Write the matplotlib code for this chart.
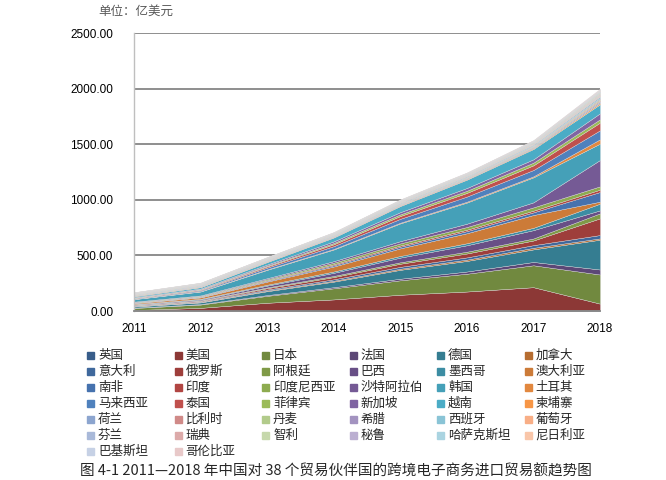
import matplotlib
matplotlib.use('Agg')
import matplotlib.pyplot as plt
from matplotlib.patches import Rectangle

plt.rcParams['font.family'] = ['Noto Sans CJK SC', 'DejaVu Sans']

# 年份与各国进口额（亿美元），按图例顺序自下而上堆叠
years = [2011, 2012, 2013, 2014, 2015, 2016, 2017, 2018]

countries = ['英国', '美国', '日本', '法国', '德国', '加拿大',
             '意大利', '俄罗斯', '阿根廷', '巴西', '墨西哥', '澳大利亚',
             '南非', '印度', '印度尼西亚', '沙特阿拉伯', '韩国', '土耳其',
             '马来西亚', '泰国', '菲律宾', '新加坡', '越南', '柬埔寨',
             '荷兰', '比利时', '丹麦', '希腊', '西班牙', '葡萄牙',
             '芬兰', '瑞典', '智利', '秘鲁', '哈萨克斯坦', '尼日利亚',
             '巴基斯坦', '哥伦比亚']

uk = [3, 3, 4, 4, 5, 5, 5, 6]
usa = [6, 25, 70, 100, 141, 170, 209, 60]
japan = [18, 30, 62, 100, 130, 160, 197, 262]
france = [3, 4, 7, 10, 14, 20, 30, 45]
germany = [10, 15, 35, 50, 80, 95, 113, 268]
canada = [3, 4, 6, 8, 10, 12, 14, 12]
italy = [4, 5, 9, 13, 17, 20, 24, 30]
russia = [4, 6, 12, 20, 28, 35, 42, 150]
argentina = [3, 4, 7, 10, 13, 16, 18, 45]
brazil = [5, 8, 16, 28, 42, 58, 75, 27]
mexico = [3, 5, 8, 12, 15, 18, 21, 60]
australia = [8, 13, 28, 45, 68, 90, 115, 18]
south_africa = [3, 4, 7, 11, 15, 19, 24, 87]
india = [3, 4, 6, 9, 11, 13, 15, 21]
indonesia = [4, 5, 9, 14, 19, 24, 30, 30]
saudi = [4, 5, 9, 14, 20, 30, 45, 237]
korea = [22, 35, 75, 105, 160, 190, 225, 147]
turkey = [2, 3, 4, 5, 6, 8, 9, 39]
malaysia = [5, 8, 16, 25, 35, 46, 57, 81]
thailand = [4, 6, 11, 17, 25, 33, 42, 69]
philippines = [3, 4, 7, 11, 15, 19, 24, 30]
singapore = [4, 6, 10, 15, 20, 25, 30, 54]
vietnam = [8, 12, 22, 35, 55, 75, 93, 81]
cambodia = [3.5, 3.8, 4.2, 4.6, 5.5, 6.0, 7.4, 13]
netherlands = [3.4, 3.9, 4.1, 4.5, 5.6, 6.1, 7.5, 12.8]
belgium = [2.9, 3.2, 3.5, 3.8, 4.6, 5.0, 6.2, 10.8]
denmark = [3.0, 3.1, 3.6, 3.7, 4.5, 5.1, 6.1, 10.9]
greece = [2.6, 2.9, 3.1, 3.4, 4.1, 4.5, 5.6, 9.7]
spain = [3.8, 4.1, 4.6, 4.9, 6.0, 6.5, 8.1, 14]
portugal = [2.3, 2.6, 2.8, 3.0, 3.7, 4.0, 5.0, 8.6]
finland = [2.0, 2.2, 2.5, 2.7, 3.2, 3.5, 4.3, 7.6]
sweden = [2.3, 2.5, 2.8, 3.1, 3.7, 4.0, 4.9, 8.6]
chile = [2.6, 2.9, 3.2, 3.4, 4.1, 4.5, 5.6, 9.7]
peru = [1.7, 1.9, 2.1, 2.3, 2.8, 3.0, 3.7, 6.5]
kazakhstan = [2.0, 2.2, 2.5, 2.6, 3.2, 3.5, 4.4, 7.5]
nigeria = [1.8, 1.9, 2.1, 2.3, 2.7, 3.0, 3.7, 6.5]
pakistan = [2.0, 2.3, 2.4, 2.7, 3.3, 3.5, 4.3, 7.6]
colombia = [1.7, 1.9, 2.1, 2.3, 2.8, 3.0, 3.7, 6.5]

values = [uk, usa, japan, france, germany, canada,
          italy, russia, argentina, brazil, mexico, australia,
          south_africa, india, indonesia, saudi, korea, turkey,
          malaysia, thailand, philippines, singapore, vietnam, cambodia,
          netherlands, belgium, denmark, greece, spain, portugal,
          finland, sweden, chile, peru, kazakhstan, nigeria,
          pakistan, colombia]

# Excel 风格配色：六种主色由深到浅
colors = ['#385D8A', '#8C3836', '#71893F', '#5C4776', '#357D91', '#B66D31',
          '#3F689C', '#9E3E3B', '#7F9A47', '#684F86', '#3C8DA3', '#CC7B38',
          '#4672AE', '#B14542', '#8DAB4F', '#755A95', '#45A0B8', '#E2883F',
          '#4F81BD', '#C0504D', '#9BBB59', '#8064A2', '#4BACC6', '#F79646',
          '#8CA5CF', '#D08A88', '#B2CB8B', '#A393C0', '#8AC4D6', '#F8AE86',
          '#A9B9D9', '#DCAAA9', '#C6D8AC', '#BBAFD1', '#AAD4E1', '#F9C6A9',
          '#C6D1E5', '#E8C9C9']

fig = plt.figure(figsize=(6.66, 4.8), dpi=100)
ax = fig.add_axes([134 / 666, 1 - 311 / 480, 466 / 666, 278 / 480])

ax.stackplot(years, values, colors=colors, edgecolor='#dddddd', linewidth=0.25)

ax.set_xlim(2011, 2018)
ax.set_ylim(0, 2500)
ax.set_yticks(range(0, 2501, 500))
ax.set_yticklabels(['%.2f' % v for v in range(0, 2501, 500)],
                   family='Liberation Sans', fontsize=8.5)
ax.set_xticks(years)
ax.set_xticklabels([str(y) for y in years], family='Liberation Sans', fontsize=8.5)
ax.tick_params(length=0)
ax.tick_params(axis='y', pad=15)
ax.tick_params(axis='x', pad=9)

for v in range(500, 2501, 500):
    ax.axhline(v, color='#868686', lw=1.3, zorder=0)
for s in ['top', 'right']:
    ax.spines[s].set_visible(False)
ax.spines['left'].set_color('#BFBFBF')
ax.spines['left'].set_linewidth(1.0)
ax.spines['bottom'].set_color('#868686')
ax.spines['bottom'].set_linewidth(1.3)

fig.text(98 / 666, 1 - 11 / 480, '单位：亿美元', fontsize=9, color='#595959',
         va='center', ha='left')

# 图例：6 列，按行排列
for i, name in enumerate(countries):
    row, col = divmod(i, 6)
    x0 = 87 + col * 87.5
    y0 = 355 + row * 16
    fig.patches.append(Rectangle((x0 / 666, 1 - (y0 + 3.5) / 480), 7 / 666, 7 / 480,
                                 transform=fig.transFigure, color=colors[i]))
    fig.text((x0 + 11) / 666, 1 - y0 / 480, name, fontsize=9, color='#262626',
             va='center', ha='left')

fig.text(80 / 666, 1 - 464 / 480,
         '图 4-1 2011—2018 年中国对 38 个贸易伙伴国的跨境电子商务进口贸易额趋势图',
         fontsize=10.5, color='#262626', va='top', ha='left')

fig.savefig('out.png', dpi=100)
